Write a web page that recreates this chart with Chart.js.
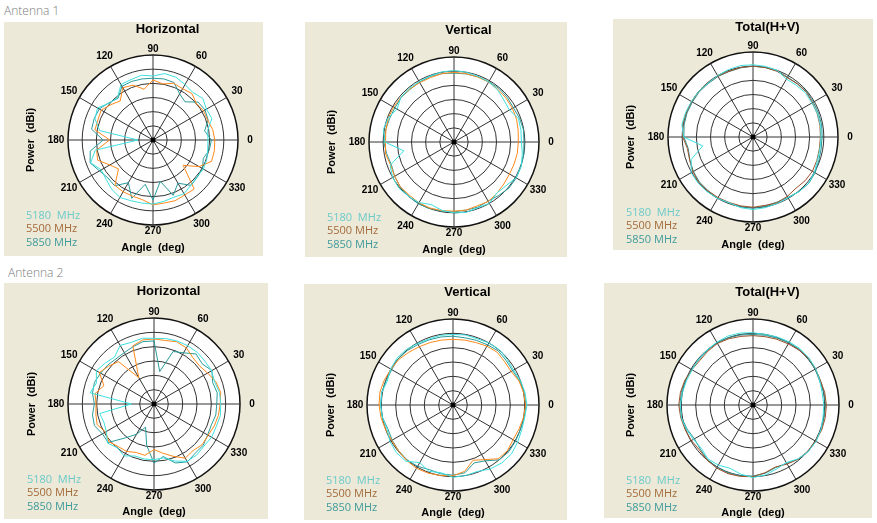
<!DOCTYPE html>
<html>
<head>
<meta charset="utf-8">
<title>Antenna radiation patterns</title>
<script src="https://cdn.jsdelivr.net/npm/chart.js@4.4.1/dist/chart.umd.min.js"></script>
<style>
    body { margin: 0; width: 877px; height: 523px; background: #fff; position: relative; overflow: hidden; font-family: "Open Sans", sans-serif; }
    .ant { position: absolute; font-size: 12px; line-height: 18px; color: #7b7b7b; font-weight: 300; }
    .panel { position: absolute; background: #ece9d8; }
    .panel canvas { display: block; }
</style>
</head>
<body>
<div class="ant" style="left:4px;top:2px">Antenna 1</div>
<div class="ant" style="left:8px;top:264px">Antenna 2</div>
<div class="panel" id="p1"><canvas></canvas></div>
<div class="panel" id="p2"><canvas></canvas></div>
<div class="panel" id="p3"><canvas></canvas></div>
<div class="panel" id="p4"><canvas></canvas></div>
<div class="panel" id="p5"><canvas></canvas></div>
<div class="panel" id="p6"><canvas></canvas></div>
<script>
// angles 0..350 deg, step 10, values in dBi
const angles = [0,10,20,30,40,50,60,70,80,90,100,110,120,130,140,150,160,170,180,190,200,210,220,230,240,250,260,270,280,290,300,310,320,330,340,350]
const tickLabels = ['0','30','60','90','120','150','180','210','240','270','300','330']
const freqLabels = ['5180  MHz', '5500 MHz', '5850 MHz']

// Antenna 1
const a1H_5180 = [-5.6,-5.4,-2.9,-3.2,-2.1,-3.1,-2.4,-1.4,-1.2,-2.4,-1.8,-2.3,-2.4,-5.5,-4.8,-2.4,-3.2,-5.9,-19.7,-4.3,-1.6,-3.9,-3.4,-2.3,-1.6,-2.2,-2.4,-2.4,-3.0,-3.5,-3.1,-4.2,-4.8,-4.5,-4.8,-5.4]
const a1H_5500 = [-3.2,-3.6,-4.5,-4.4,-5.0,-3.6,-4.1,-3.7,-4.9,-3.8,-6.8,-4.4,-3.7,-7.0,-5.6,-3.9,-4.3,-4.2,-9.7,-4.8,-4.2,-7.4,-9.1,-4.1,-3.9,-3.9,-3.6,-2.1,-2.4,-2.2,-2.6,-2.4,-11.1,-6.2,-3.0,-3.0]
const a1H_5850 = [-4.4,-6.5,-4.3,-3.8,-4.2,-7.4,-6.2,-3.4,-3.1,-3.2,-3.1,-3.0,-3.1,-5.8,-4.6,-3.1,-2.9,-3.0,-7.4,-2.5,-1.4,-3.2,-4.2,-3.9,-7.6,-3.1,-9.1,-3.8,-10.2,-4.2,-7.4,-4.1,-4.6,-4.8,-6.1,-4.8]

const a1V_5180 = [-1.2,-1.0,-0.8,-2.4,-2.0,-1.0,-0.5,-0.3,0.0,0.2,0.1,-0.2,-0.4,-0.3,-0.5,-1.8,-0.2,0.3,-0.6,-7.0,-1.0,0.0,0.4,0.0,-0.3,-1.5,-0.5,0.0,0.2,-0.3,0.0,-1.5,-1.0,0.3,0.2,-0.5]
const a1V_5500 = [-2.3,-2.0,-1.5,-1.2,-1.0,-0.8,-0.6,-0.6,-0.5,-0.4,-0.5,-0.8,-0.8,-0.6,-0.5,-0.4,-0.3,-0.6,-0.8,-0.5,-1.2,-0.8,-0.3,-0.5,-0.2,-0.2,-0.4,-0.6,-0.6,-1.0,-0.8,-1.4,-2.0,-2.4,-2.4,-2.3]
const a1V_5850 = [-0.3,-0.1,-0.4,-0.8,-0.5,-0.3,-0.4,-0.5,-0.6,-0.7,-0.5,-0.4,-0.6,-0.8,-0.6,-0.9,-0.8,-0.5,-0.2,-0.9,-1.5,-0.8,-0.3,0.0,0.2,0.0,-0.2,-0.3,-0.6,-0.5,-0.9,-0.4,0.3,0.4,0.2,0.0]

const a1T_5180 = [-1.0,-0.8,-0.8,-1.0,-0.8,-1.2,-1.4,0.0,0.3,0.5,0.6,0.3,0.0,-0.2,0.0,0.1,0.3,0.5,-0.5,-7.0,-1.8,0.2,0.3,0.2,0.0,-0.3,0.3,0.6,0.3,0.0,-0.2,0.2,0.5,0.0,-0.8,-1.0]
const a1T_5500 = [-1.2,-1.0,-0.9,-0.8,-0.4,-0.6,-0.8,-0.3,-0.1,0.0,-0.1,-0.3,-0.2,-0.1,0.0,-0.1,0.1,0.2,-0.2,-1.5,-1.2,-0.5,0.0,-0.2,-0.3,-0.4,-0.3,-0.2,-0.5,-0.3,-0.8,-1.4,-1.0,-0.8,-1.0,-1.2]
const a1T_5850 = [-0.6,-0.4,-0.4,-0.4,-0.2,-0.5,-0.6,-0.2,-0.1,0.0,-0.2,-0.4,-0.3,-0.4,-0.2,-0.3,-0.2,-0.3,-0.6,-1.8,-1.3,-0.7,-0.3,-0.3,-0.1,-0.2,0.0,0.1,-0.2,-0.5,-0.4,0.2,0.6,0.3,-0.3,-0.6]

// Antenna 2
const a2H_5180 = [-1.7,-1.8,-2.5,-1.8,-1.8,-1.5,-1.5,-1.6,-1.8,-2.1,-1.7,-2.1,-1.4,-3.6,-2.8,-1.8,-3.6,-2.4,-17.1,-5.8,-6.4,-5.8,-3.8,-5.1,-4.1,-5.7,-5.5,-5.6,-5.9,-3.8,-1.9,-1.8,-2.2,-1.8,-1.9,-1.5]
const a2H_5500 = [-1.9,-1.4,-2.1,-3.4,-4.3,-3.9,-2.4,-1.9,-2.5,-2.3,-2.3,-3.4,-14.4,-5.7,-4.4,-3.0,-6.4,-4.1,-4.8,-4.4,-3.9,-5.5,-4.5,-5.6,-5.9,-7.0,-6.8,-9.1,-7.6,-5.6,-3.2,-3.8,-3.0,-3.2,-2.6,-2.2]
const a2H_5850 = [-3.1,-2.6,-3.2,-1.7,-3.1,-2.2,-4.4,-5.5,-13.5,-3.0,-2.9,-3.7,-4.3,-4.4,-3.9,-3.5,-2.9,-3.2,-4.2,-3.2,-2.9,-4.2,-4.1,-9.6,-12.8,-16.4,-10.3,-4.4,-6.4,-3.1,-1.7,-2.6,-2.6,-3.4,-3.7,-3.1]

const a2V_5180 = [0.8,0.5,0.0,-0.6,-0.3,0.2,0.0,-0.4,-0.2,-0.4,-0.3,-0.5,-0.2,0.3,0.5,0.1,-0.6,0.2,0.3,0.0,-0.5,0.4,0.8,0.6,-1.8,-0.4,-1.0,0.2,0.0,-0.3,0.8,1.4,1.6,1.0,0.5,0.4]
const a2V_5500 = [0.3,0.0,-0.5,-1.6,-1.5,-1.0,-1.3,-1.8,-2.0,-2.1,-2.0,-1.8,-1.5,-1.0,-0.3,0.0,0.5,0.9,0.8,0.5,0.0,-0.3,-0.2,0.2,0.5,0.3,0.0,-0.3,-1.5,-4.5,-3.0,-0.5,-0.2,-0.8,-0.5,0.0]
const a2V_5850 = [0.5,0.2,-0.3,-1.0,-0.8,-0.4,-0.8,-1.0,-1.2,-1.0,-0.9,-0.8,-0.6,-0.2,0.0,-0.3,-0.2,0.3,0.2,0.0,-0.8,-0.5,-0.2,0.0,-0.3,-1.0,-0.6,-0.5,-1.0,-3.5,-2.5,0.0,0.4,0.2,0.0,0.2]

const a2T_5180 = [-0.3,-0.5,-0.2,0.3,0.5,0.6,0.4,0.2,0.0,0.2,0.5,0.6,0.3,0.0,-0.2,-0.5,-0.3,0.0,0.3,0.4,-0.2,-1.0,-1.5,-0.5,-0.8,-1.5,-0.5,0.3,-0.2,-1.2,-1.8,-0.5,0.2,0.4,0.2,-0.2]
const a2T_5500 = [0.6,0.4,0.0,0.2,0.4,0.0,-0.4,-0.6,-0.8,-0.8,-0.7,-0.4,-0.2,-0.5,-0.8,-0.4,0.3,0.7,0.9,0.6,0.2,-0.2,-0.6,0.0,0.4,0.5,0.3,0.0,-1.0,-2.0,-1.2,-0.4,0.0,0.2,0.5,0.6]
const a2T_5850 = [0.3,0.1,-0.3,0.0,0.2,0.3,0.0,-0.2,-0.3,-0.4,-0.2,0.0,0.1,-0.2,-0.4,-0.2,0.1,0.4,0.5,0.3,-0.5,-1.4,-1.0,-0.2,0.0,0.2,0.0,-0.2,-0.8,-1.8,-1.5,-0.3,0.2,0.3,0.3,0.2]

const lineColorsHV = ['#3fe0e0', '#ff8a1c', '#2b9c9c']
const lineColorsT = ['#3fe0e0', '#a0522d', '#2b9090']
const legendColors = ['#6ccaca', '#a36b3a', '#3e9b9b']

// box = [left, top, width, height], c = circle centre (page px), r = outer radius, t = title offset above centre
const panels = [
    {id: 'p1', title: 'Horizontal', box: [4, 22, 259, 234], c: [153, 140], r: 85, t: 111, series: [a1H_5180, a1H_5500, a1H_5850], colors: lineColorsHV},
    {id: 'p2', title: 'Vertical', box: [305, 22, 262, 235], c: [454, 142], r: 85, t: 112, series: [a1V_5180, a1V_5500, a1V_5850], colors: lineColorsHV},
    {id: 'p3', title: 'Total(H+V)', box: [613, 19, 260, 231], c: [753, 137], r: 85, t: 110, series: [a1T_5180, a1T_5500, a1T_5850], colors: lineColorsT},
    {id: 'p4', title: 'Horizontal', box: [4, 283, 264, 236], c: [154, 404], r: 86, t: 113, series: [a2H_5180, a2H_5500, a2H_5850], colors: lineColorsHV},
    {id: 'p5', title: 'Vertical', box: [304, 284, 263, 236], c: [453, 405], r: 86, t: 113, series: [a2V_5180, a2V_5500, a2V_5850], colors: lineColorsHV},
    {id: 'p6', title: 'Total(H+V)', box: [604, 283, 268, 235], c: [753, 405], r: 86, t: 113, series: [a2T_5180, a2T_5500, a2T_5850], colors: lineColorsT}
]

// radar goes clockwise from the top, the plot goes counter-clockwise from the right
const order = angles.map((_, i) => (90 - 10 * i + 360) % 360)

const bold = (px) => `bold ${px}px "Liberation Sans", Arial, sans-serif`

const panelText = {
    id: 'panelText',
    afterDraw(chart, args, opts) {
        const ctx = chart.ctx
        const sc = chart.scales.r
        const cx = sc.xCenter, cy = sc.yCenter
        ctx.save()
        ctx.fillStyle = '#000'
        ctx.beginPath()
        ctx.arc(cx, cy, 2.5, 0, Math.PI * 2)
        ctx.fill()

        ctx.textAlign = 'center'
        ctx.textBaseline = 'middle'
        ctx.font = bold(10)
        chart.data.labels.forEach((a, i) => {
            if (a % 30 !== 0) return
            const off = (a === 90 || a === 270) ? 6 : 12
            const p = sc.getPointPosition(i, sc.drawingArea + off)
            ctx.fillText(tickLabels[a / 30], p.x, p.y)
        })

        ctx.font = bold(13)
        ctx.fillText(opts.title, cx + 14.5, cy - opts.offset)

        ctx.font = bold(11)
        ctx.fillText('Angle  (deg)', cx, cy + 108)
        ctx.save()
        ctx.translate(cx - 122, cy)
        ctx.rotate(-Math.PI / 2)
        ctx.fillText('Power  (dBi)', 0, 0)
        ctx.restore()

        ctx.textAlign = 'left'
        ctx.font = '11px "Open Sans", sans-serif'
        chart.data.datasets.forEach((ds, k) => {
            ctx.fillStyle = legendColors[k]
            ctx.fillText(ds.label, cx - 127, cy + 75.5 + 13.5 * k)
        })
        ctx.restore()
    }
}

panels.forEach(p => {
    const [left, top, w, h] = p.box
    const div = document.getElementById(p.id)
    div.style.left = left + 'px'
    div.style.top = top + 'px'
    div.style.width = w + 'px'
    div.style.height = h + 'px'
    const canvas = div.querySelector('canvas')
    canvas.width = w
    canvas.height = h

    const cx = p.c[0] - left, cy = p.c[1] - top
    new Chart(canvas, {
        type: 'radar',
        data: {
            labels: order,
            datasets: p.series.map((s, k) => ({
                label: freqLabels[k],
                data: order.map(a => s[angles.indexOf(a)]),
                borderColor: p.colors[k],
                borderWidth: 1,
                pointRadius: 0,
                fill: false,
                tension: 0
            }))
        },
        options: {
            responsive: false,
            animation: false,
            layout: {
                padding: {left: cx - p.r, right: w - cx - p.r, top: cy - p.r, bottom: h - cy - p.r}
            },
            scales: {
                r: {
                    min: -25,
                    max: 5,
                    startAngle: 0,
                    backgroundColor: '#fff',
                    ticks: {display: false, stepSize: 5},
                    pointLabels: {display: false},
                    grid: {
                        circular: true,
                        color: (c) => c.index === 6 ? '#111' : '#333',
                        lineWidth: (c) => c.index === 6 ? 1.5 : 1
                    },
                    angleLines: {
                        color: (c) => order[c.index] % 30 === 0 ? '#333' : 'rgba(0,0,0,0)',
                        lineWidth: 1
                    }
                }
            },
            plugins: {
                legend: {display: false},
                tooltip: {enabled: false},
                panelText: {title: p.title, offset: p.t}
            }
        },
        plugins: [panelText]
    })
})
</script>
</body>
</html>
